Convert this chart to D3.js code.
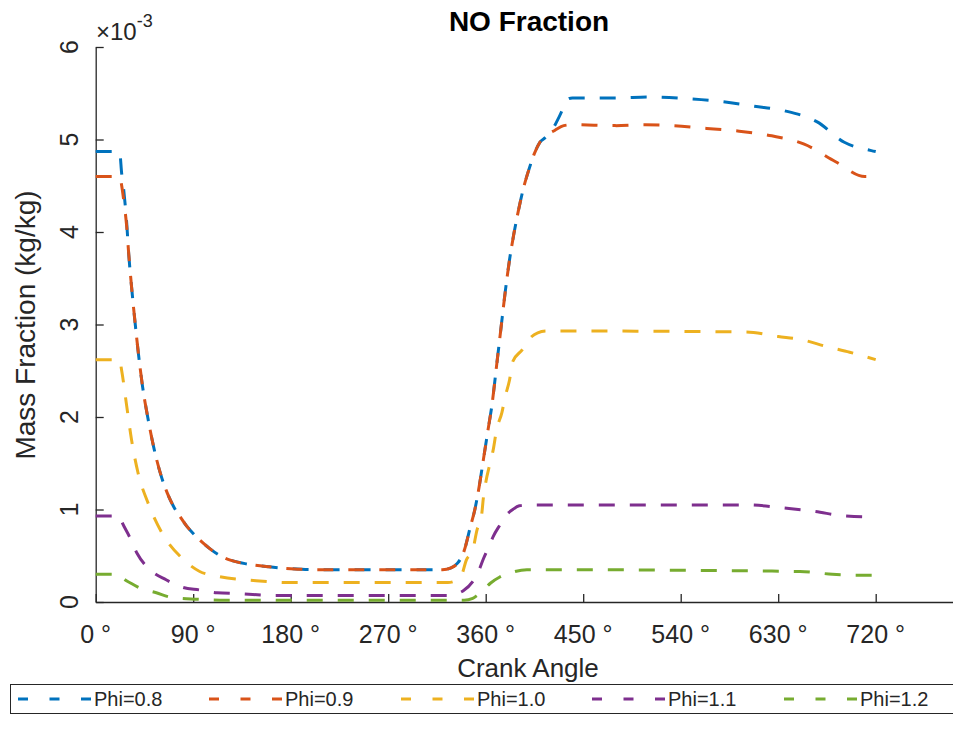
<!DOCTYPE html>
<html><head><meta charset="utf-8">
<script src="https://cdn.jsdelivr.net/npm/d3@7"></script>
<style>body{margin:0;background:#fff}svg{display:block}</style>
</head><body>
<script>
// ---------- data ----------
const seriesNames = ["Phi=0.8", "Phi=0.9", "Phi=1.0", "Phi=1.1", "Phi=1.2"];
const xTicks = [0, 90, 180, 270, 360, 450, 540, 630, 720];
const xTickLabels = ["0 °", "90 °", "180 °", "270 °", "360 °", "450 °", "540 °", "630 °", "720 °"];
const yTicks = [0, 1, 2, 3, 4, 5, 6];
const yTickLabels = ["0", "1", "2", "3", "4", "5", "6"];

const angle08 = [0,22,24,26,28.6,30.5,33,36,39,43,48,54,60,66,72,78,84,90,96,105,115,125,140,160,180,200,320,328,334,340,346,350,354,358,362,366,370,374,378,382,386,390,395,400,405,410,415,420,425,430,434,440,480,511,548,578,608,636,666,691,716,720];
const value08 = [4.87,4.87,4.63,4.44,4.1,3.76,3.42,3.06,2.73,2.35,2.0,1.65,1.38,1.18,1.03,0.92,0.82,0.74,0.67,0.58,0.5,0.45,0.41,0.38,0.36,0.35,0.35,0.37,0.42,0.55,0.82,1.0,1.25,1.55,1.85,2.15,2.55,2.95,3.35,3.7,3.98,4.22,4.48,4.68,4.85,4.97,5.02,5.08,5.18,5.3,5.42,5.45,5.45,5.46,5.44,5.41,5.36,5.31,5.19,4.97,4.88,4.87];

const angle09 = [0,22,24,26,28.6,30.5,33,36,39,43,48,54,60,66,72,78,84,90,96,105,115,125,140,160,180,200,320,328,334,340,346,350,354,358,362,366,370,374,378,382,386,390,395,400,405,410,416,424,432,440,480,507,534,564,594,624,654,683,710,720];
const value09 = [4.6,4.6,4.5,4.33,4.06,3.76,3.42,3.06,2.73,2.35,2.0,1.65,1.38,1.18,1.03,0.92,0.82,0.74,0.67,0.58,0.5,0.45,0.41,0.38,0.36,0.35,0.35,0.37,0.42,0.55,0.82,1.0,1.25,1.55,1.85,2.15,2.55,2.95,3.35,3.7,3.98,4.22,4.48,4.68,4.85,4.97,5.04,5.1,5.15,5.16,5.15,5.16,5.15,5.12,5.09,5.04,4.95,4.76,4.6,4.6];

const angle10 = [0,22,24,28.6,33,39,48,61,80,96,112,148,180,325,330,338,342,348,352,356,358,360,364,367,370,375,378,382,385,394,400,408,416,600,630,650,675,696,720];
const value10 = [2.62,2.62,2.5,2.12,1.76,1.4,1.08,0.75,0.47,0.33,0.28,0.23,0.21,0.21,0.22,0.3,0.45,0.56,0.78,0.92,1.14,1.29,1.5,1.65,1.86,2.05,2.22,2.4,2.6,2.73,2.84,2.91,2.93,2.92,2.87,2.84,2.76,2.7,2.62];

const angle11 = [0,22,24,31,38,50,65,80,96,112,133,165,325,330,339,348,354,358,363,367,373,379,385,391,400,600,640,663,692,716,720];
const value11 = [0.93,0.93,0.87,0.71,0.53,0.35,0.24,0.16,0.13,0.1,0.09,0.07,0.07,0.08,0.12,0.22,0.35,0.47,0.6,0.71,0.83,0.94,1.0,1.04,1.05,1.05,1.01,0.98,0.93,0.92,0.92];

const angle12 = [0,22,25,33,41,56,70,93,120,340,348,352,358,364,373,384,398,650,680,707,720];
const value12 = [0.3,0.3,0.26,0.2,0.15,0.1,0.05,0.03,0.02,0.02,0.04,0.07,0.13,0.2,0.27,0.32,0.35,0.33,0.3,0.29,0.29];

const seriesAngles = [angle08, angle09, angle10, angle11, angle12];
const seriesValues = [value08, value09, value10, value11, value12];
const colors = ["#0072BD", "#D95319", "#EDB120", "#7E2F8E", "#77AC30"];

// ---------- layout ----------
const W = 953, H = 749;
const FONT = "'Liberation Sans', Arial, Helvetica, sans-serif";
const INK = "#262626";

const svg = d3.select("body").append("svg").attr("width", W).attr("height", H)
  .style("font-family", FONT);

const x = d3.scaleLinear().domain([0, 810]).range([95.7, 95.7 + 810 * 780 / 720]);
const y = d3.scaleLinear().domain([0, 6]).range([602, 47]);

// axes
const xAxis = svg.append("g").attr("transform", `translate(0,${y(0)})`)
  .call(d3.axisBottom(x).tickValues(xTicks).tickSize(-8).tickSizeOuter(0).tickFormat(""));
const yAxis = svg.append("g").attr("transform", `translate(${x(0)},0)`)
  .call(d3.axisLeft(y).tickValues(yTicks).tickSize(-8).tickSizeOuter(0).tickFormat(""));
[xAxis, yAxis].forEach(g => {
  g.select(".domain").attr("stroke", INK).attr("stroke-width", 1.3);
  g.selectAll(".tick line").attr("stroke", INK).attr("stroke-width", 1.3);
});

// tick labels
svg.append("g").selectAll("text").data(xTicks).join("text")
  .attr("x", d => x(d)).attr("y", 643)
  .attr("text-anchor", "middle").attr("font-size", 25).attr("fill", INK)
  .text((d, i) => xTickLabels[i]);
svg.append("g").selectAll("text").data(yTicks).join("text")
  .attr("transform", d => `translate(78,${y(d)}) rotate(-90)`)
  .attr("text-anchor", "middle").attr("font-size", 25).attr("fill", INK)
  .text((d, i) => yTickLabels[i]);

// exponent
const ex = svg.append("text").attr("x", 96).attr("y", 40).attr("font-size", 24).attr("fill", INK);
ex.append("tspan").text("×10");
ex.append("tspan").attr("dy", -13).attr("font-size", 18).text("-3");

// title & labels
svg.append("text").attr("x", 529).attr("y", 31).attr("text-anchor", "middle")
  .attr("font-size", 28).attr("font-weight", "bold").attr("fill", "#000").text("NO Fraction");
svg.append("text").attr("x", 528).attr("y", 677).attr("text-anchor", "middle")
  .attr("font-size", 26).attr("fill", INK).text("Crank Angle");
svg.append("text").attr("transform", "translate(35,325) rotate(-90)").attr("text-anchor", "middle")
  .attr("font-size", 28).attr("fill", INK).text("Mass Fraction (kg/kg)");

// lines
const line = d3.line().x(d => x(d[0])).y(d => y(d[1])).curve(d3.curveMonotoneX);
seriesNames.forEach((name, i) => {
  const pts = seriesAngles[i].map((a, k) => [a, seriesValues[i][k]]);
  svg.append("path").datum(pts).attr("d", line)
    .attr("fill", "none").attr("stroke", colors[i]).attr("stroke-width", 3)
    .attr("stroke-dasharray", "16,15");
});

// legend
const legend = svg.append("g");
legend.append("rect").attr("x", 10.5).attr("y", 684.5).attr("width", 960).attr("height", 29)
  .attr("fill", "#fff").attr("stroke", INK).attr("stroke-width", 1);
const legX = [94, 285, 477, 668, 860];
seriesNames.forEach((name, i) => {
  legend.append("line").attr("x1", legX[i] - 76).attr("x2", legX[i] - 3)
    .attr("y1", 699).attr("y2", 699).attr("stroke", colors[i]).attr("stroke-width", 3)
    .attr("stroke-dasharray", "10,21.5");
  legend.append("text").attr("x", legX[i]).attr("y", 699).attr("dy", "0.35em")
    .attr("font-size", 20).attr("fill", INK).text(name);
});
</script>
</body></html>
